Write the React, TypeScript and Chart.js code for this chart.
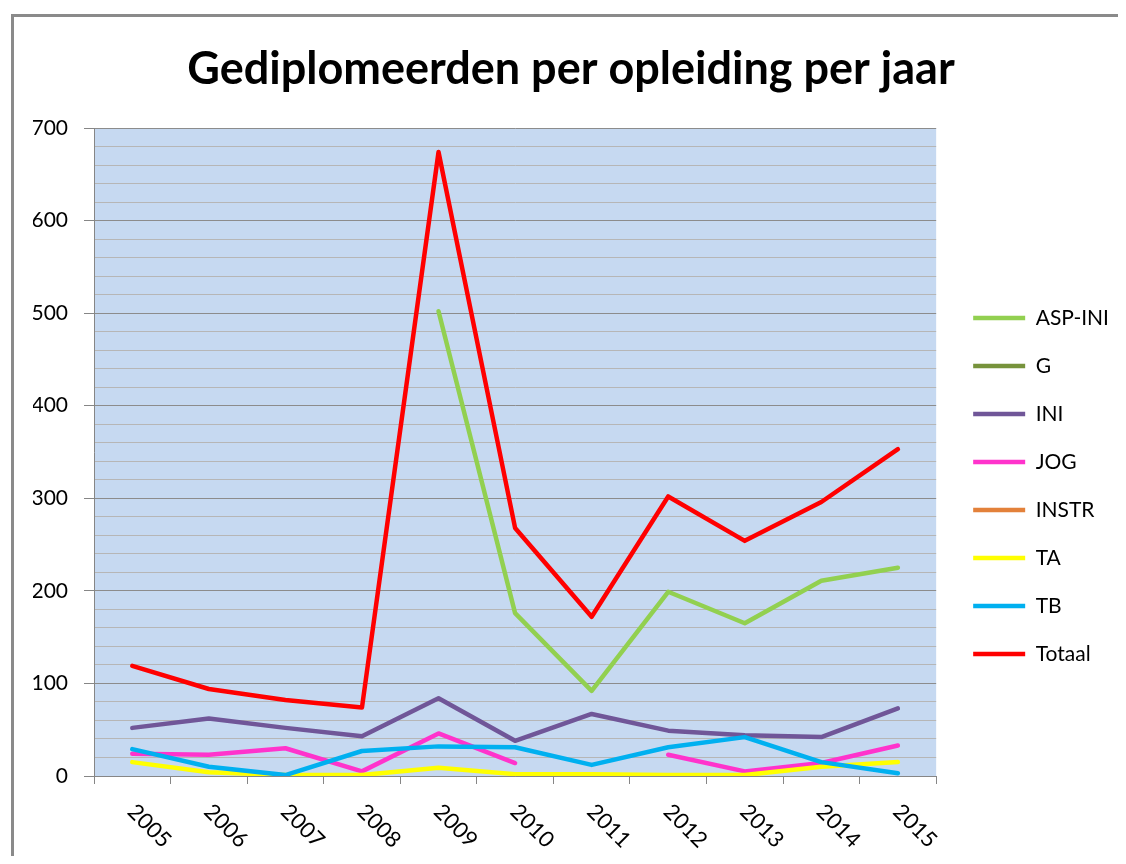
import React, { useEffect, useRef } from "react";
import { Chart, registerables } from "chart.js";

Chart.register(...registerables);

const years = ["2005", "2006", "2007", "2008", "2009", "2010", "2011", "2012", "2013", "2014", "2015"];
const seriesNames = ["ASP-INI", "G", "INI", "JOG", "INSTR", "TA", "TB", "Totaal"];
const aspIni = [null, null, null, null, 502, 176, 92, 199, 165, 211, 225];
const g = [null, null, null, null, null, null, null, null, null, null, null];
const ini = [52, 62, 52, 43, 84, 38, 67, 49, 44, 42, 73];
const jog = [24, 23, 30, 5, 46, 14, null, 23, 5, 14, 33];
const instr = [null, null, null, null, null, null, null, null, null, null, null];
const ta = [15, 4, 1, 1, 9, 2, 2, 1, 1, 10, 15];
const tb = [29, 10, 1, 27, 32, 31, 12, 31, 42, 15, 3];
const totaal = [119, 94, 82, 74, 674, 268, 172, 302, 254, 296, 353];
const colors = ["#92d050", "#77933c", "#705698", "#ff33cc", "#e3813a", "#ffff00", "#00b0f0", "#ff0000"];
const seriesValues = [aspIni, g, ini, jog, instr, ta, tb, totaal];
const yMax = 700;
const yStep = 20;
const titleText = "Gediplomeerden per opleiding per jaar";

const W = 1120;
const H = 938;

const bgPlugin = {
  id: "plotBg",
  beforeDraw(chart: any) {
    const { ctx, chartArea } = chart;
    ctx.save();
    ctx.fillStyle = "#c6d9f1";
    ctx.fillRect(chartArea.left, chartArea.top, chartArea.right - chartArea.left, chartArea.bottom - chartArea.top);
    ctx.restore();
  },
};

const legendShiftPlugin = {
  id: "legendShift",
  afterLayout(chart: any) {
    const l = chart.legend;
    if (l) {
      l.left += 10;
      l.right += 10;
    }
  },
};

const xLabelPlugin = {
  id: "xLabels",
  afterDraw(chart: any) {
    const { ctx, chartArea } = chart;
    const xs = chart.scales.x;
    ctx.save();
    ctx.font = "22px Lato";
    ctx.fillStyle = "#000";
    ctx.textAlign = "left";
    ctx.textBaseline = "middle";
    years.forEach((label, i) => {
      const x = xs.getPixelForValue(i);
      ctx.save();
      ctx.translate(x - 1, chartArea.bottom + 32);
      ctx.rotate(Math.PI / 4);
      ctx.fillText(label, 0, 0);
      ctx.restore();
    });
    ctx.restore();
  },
};

export default function App() {
  const ref = useRef<HTMLCanvasElement>(null);
  useEffect(() => {
    if (!ref.current) return;
    Chart.defaults.font.family = "Lato";
    const chart = new Chart(ref.current, {
      type: "line",
      data: {
        labels: years,
        datasets: seriesNames.map((name, i) => ({
          label: name,
          data: seriesValues[i],
          borderColor: colors[i],
          backgroundColor: colors[i],
          borderWidth: 4.5,
          pointRadius: 0,
          pointHoverRadius: 0,
          tension: 0,
          spanGaps: false,
          borderCapStyle: "round",
          borderJoinStyle: "round",
          order: -i,
        })),
      },
      options: {
        animation: false,
        responsive: false,
        devicePixelRatio: 1,
        layout: { padding: { left: 19, right: 25, top: 0, bottom: 0 } },
        plugins: {
          title: {
            display: true,
            text: titleText,
            color: "#000",
            font: { family: "Lato", size: 45, weight: "bold" },
            padding: { top: 25, bottom: 32 },
          },
          legend: {
            position: "right",
            labels: {
              usePointStyle: true,
              pointStyle: "line",
              pointStyleWidth: 52,
              color: "#000",
              font: { family: "Lato", size: 21 },
              padding: 27,
              sort: (a: any, b: any) => a.datasetIndex - b.datasetIndex,
            },
          },
          tooltip: { enabled: false },
        },
        scales: {
          x: {
            type: "category",
            offset: true,
            grid: {
              offset: true,
              drawOnChartArea: false,
              drawTicks: true,
              tickLength: 8,
              color: "#868686",
              tickColor: "#868686",
            },
            border: { color: "#868686", width: 1 },
            ticks: { display: false },
            afterFit: (scale: any) => {
              scale.height = H - 759;
            },
          },
          y: {
            min: 0,
            max: yMax,
            afterFit: (scale: any) => {
              scale.width = 61;
            },
            ticks: {
              stepSize: yStep,
              autoSkip: false,
              padding: 16,
              color: "#000",
              font: { family: "Lato", size: 21 },
              callback: (v: any) => (Number(v) % 100 === 0 ? String(v) : ""),
            },
            grid: {
              color: (c: any) => (c.tick && c.tick.value % 100 === 0 ? "#8c8c8c" : "#b6b6b6"),
              tickColor: (c: any) => (c.tick && c.tick.value % 100 === 0 ? "#868686" : "rgba(0,0,0,0)"),
              tickLength: 10,
              lineWidth: 1,
            },
            border: { color: "#868686", width: 1 },
          },
        },
      },
      plugins: [bgPlugin, legendShiftPlugin, xLabelPlugin],
    } as any);
    return () => chart.destroy();
  }, []);

  return (
    <div style={{ position: "relative", width: 1110, height: 848, overflow: "hidden", background: "#fff" }}>
      <div
        style={{
          position: "absolute",
          left: 3,
          top: 6,
          width: 1300,
          height: 1000,
          borderLeft: "3px solid #8a8a8a",
          borderTop: "3px solid #8a8a8a",
        }}
      >
        <canvas ref={ref} width={W} height={H} style={{ position: "absolute", left: 0, top: 0 }} />
      </div>
    </div>
  );
}
